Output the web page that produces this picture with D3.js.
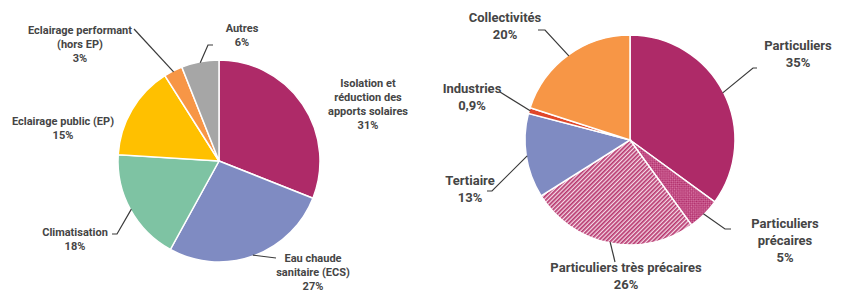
<!DOCTYPE html>
<html lang="fr">
<head>
<meta charset="UTF-8">
<title>Répartition</title>
<script src="https://d3js.org/d3.v7.min.js"></script>
<style>
  body { margin: 0; background: #fff; }
  svg { display: block; }
  .lbl { font-family: Roboto, "Liberation Sans", sans-serif; font-weight: 700; fill: #454545; text-anchor: middle; }
  .lead { fill: none; stroke: #3a3a3a; stroke-width: 1.2; }
</style>
</head>
<body>
<svg id="chart" width="841" height="292"></svg>
<script>
// left pie: actions
const leftCats = ["Isolation et|réduction des|apports solaires", "Eau chaude|sanitaire (ECS)", "Climatisation",
                  "Eclairage public (EP)", "Eclairage performant|(hors EP)", "Autres"];
const leftVals = [31, 27, 18, 15, 3, 6];
const leftPct = ["31%", "27%", "18%", "15%", "3%", "6%"];
const leftColors = ["#ae2a68", "#7f8bc2", "#7ec3a3", "#ffc000", "#f79646", "#a6a6a6"];

// right pie: beneficiaries
const rightCats = ["Particuliers", "Particuliers|précaires", "Particuliers très précaires", "Tertiaire", "Industries", "Collectivités"];
const rightVals = [35, 5, 26, 13, 0.9, 20];
const rightPct = ["35%", "5%", "26%", "13%", "0,9%", "20%"];
const rightColors = ["#ae2a68", "url(#checks)", "url(#stripes)", "#7f8bc2", "#e0472a", "#f79646"];

// label placement: text anchor (lx, ly), leader elbow (ex, ey), hook end hx
const leftLayout = [
  {lx: 368, ly: 83, lead: null},
  {lx: 313, ly: 258, lead: {ex: 276, ey: 258}},
  {lx: 75, ly: 232, lead: {ex: 117, ey: 234, hx: 112}},
  {lx: 63, ly: 121, lead: null},
  {lx: 80, ly: 30, lead: {ex: 134, ey: 29}},
  {lx: 242, ly: 28, lead: {ex: 208, ey: 45, hx: 213}}
];
const rightLayout = [
  {lx: 798, ly: 45, lead: {ex: 753, ey: 68, hx: 757}},
  {lx: 785, ly: 223, lead: {ex: 725, ey: 229, hx: 731}},
  {lx: 626, ly: 267, lead: {ex: 615, ey: 262}},
  {lx: 470, ly: 180, lead: {ex: 492, ey: 191, hx: 487}},
  {lx: 472, ly: 88, lead: {ex: 500, ey: 92}},
  {lx: 505, ly: 17, lead: {ex: 545, ey: 30, hx: 538}}
];

const svg = d3.select("#chart");
const defs = svg.append("defs");

const stripes = defs.append("pattern").attr("id", "stripes")
  .attr("patternUnits", "userSpaceOnUse").attr("width", 3).attr("height", 3)
  .attr("patternTransform", "rotate(45)");
stripes.append("rect").attr("width", 3).attr("height", 3).attr("fill", "#f4dbe7");
stripes.append("rect").attr("width", 1.7).attr("height", 3).attr("fill", "#b8386f");

const checks = defs.append("pattern").attr("id", "checks")
  .attr("patternUnits", "userSpaceOnUse").attr("width", 3).attr("height", 3)
  .attr("patternTransform", "rotate(45)");
checks.append("rect").attr("width", 3).attr("height", 3).attr("fill", "#ad2866");
checks.append("rect").attr("width", 1.5).attr("height", 1.5).attr("fill", "#d978a6");
checks.append("rect").attr("x", 1.5).attr("y", 1.5).attr("width", 1.5).attr("height", 1.5).attr("fill", "#d978a6");

function drawPie(cx, cy, r, vals, cats, pcts, colors, layout, fontSize, lineH) {
  const g = svg.append("g");
  const pie = d3.pie().sort(null).value(d => d);
  const arcs = pie(vals);
  const arc = d3.arc().innerRadius(0).outerRadius(r);

  g.selectAll("path.slice")
    .data(arcs)
    .enter().append("path")
    .attr("class", "slice")
    .attr("transform", `translate(${cx},${cy})`)
    .attr("d", arc)
    .attr("fill", (d, i) => colors[i])
    .attr("stroke", "#fff")
    .attr("stroke-width", 1.5);

  arcs.forEach((a, i) => {
    const lay = layout[i];
    if (lay.lead) {
      const mid = (a.startAngle + a.endAngle) / 2;
      const sx = cx + Math.sin(mid) * (r - 1);
      const sy = cy - Math.cos(mid) * (r - 1);
      const pts = [[sx, sy], [lay.lead.ex, lay.lead.ey]];
      if (lay.lead.hx !== undefined) pts.push([lay.lead.hx, lay.lead.ey]);
      g.append("path").attr("class", "lead").attr("d", d3.line()(pts));
    }
    const lines = cats[i].split("|").concat([pcts[i]]);
    const t = g.append("text").attr("class", "lbl")
      .style("font-size", fontSize + "px");
    lines.forEach((s, k) => {
      t.append("tspan").attr("x", lay.lx).attr("y", lay.ly + k * lineH)
        .attr("dy", "0.35em").text(s);
    });
  });
}

drawPie(219, 161, 101, leftVals, leftCats, leftPct, leftColors, leftLayout, 11, 14);
drawPie(630, 140, 105, rightVals, rightCats, rightPct, rightColors, rightLayout, 13, 17);
</script>
</body>
</html>
